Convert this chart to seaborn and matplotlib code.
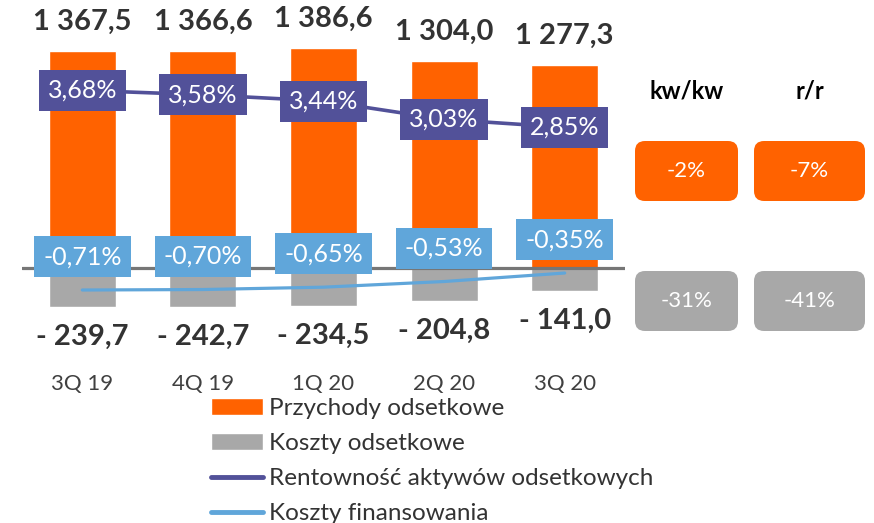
import numpy as np
import pandas as pd
import matplotlib
matplotlib.use('Agg')
import matplotlib.pyplot as plt
import seaborn as sns
from matplotlib.patches import Patch, FancyBboxPatch
from matplotlib.lines import Line2D

# dane kwartalne
kwartaly = ['3Q 19', '4Q 19', '1Q 20', '2Q 20', '3Q 20']
przychody = [1367.5, 1366.6, 1386.6, 1304.0, 1277.3]
koszty = [-239.7, -242.7, -234.5, -204.8, -141.0]
rentownosc = [3.68, 3.58, 3.44, 3.03, 2.85]
koszty_fin = [-0.71, -0.70, -0.65, -0.53, -0.35]

# zmiany po prawej stronie
naglowki = ['kw/kw', 'r/r']
zmiana_przychody = ['-2%', '-7%']
zmiana_koszty = ['-31%', '-41%']

etykiety = ['Przychody odsetkowe', 'Koszty odsetkowe',
            'Rentowność aktywów odsetkowych', 'Koszty finansowania']

ORANGE = '#FF6200'
GREY = '#A8A8A8'
PURPLE = '#525199'
BLUE = '#60A6DA'
TXT = '#333333'

sns.set_style('white')
plt.rcParams['font.family'] = ['Lato', 'DejaVu Sans']

W, H = 874, 523
fig = plt.figure(figsize=(W / 100, H / 100), dpi=100)
ax = fig.add_axes([22 / W, 1 - 360 / H, 603 / W, 320 / H])

df = pd.DataFrame({'kw': kwartaly, 'przychody': przychody, 'koszty': koszty})
sns.barplot(data=df, x='kw', y='przychody', color=ORANGE, width=0.555,
            saturation=1, errorbar=None, ax=ax)
sns.barplot(data=df, x='kw', y='koszty', color=GREY, width=0.555,
            saturation=1, errorbar=None, ax=ax)
ax.set_xlim(-0.5, 4.5)
ax.set_ylim(-575.5, 1437)
ax.axhline(0, color='#767676', lw=2.3)

def fmt_pl(v):
    return f'{v:,.1f}'.replace(',', ' ').replace('.', ',')

for i, v in enumerate(przychody):
    ax.annotate(fmt_pl(v), (i, v), xytext=(0, 21), textcoords='offset points',
                ha='center', va='center', fontsize=21, fontweight='bold', color=TXT)
for i, v in enumerate(koszty):
    ax.annotate('- ' + fmt_pl(abs(v)), (i, v), xytext=(0, -21.5), textcoords='offset points',
                ha='center', va='center', fontsize=21, fontweight='bold', color=TXT)

# rentowność aktywów
ax2 = ax.twinx()
ax2.set_ylim(-2.367, 4.808)
sns.lineplot(x=np.arange(len(kwartaly)), y=rentownosc, color=PURPLE, lw=2.6, ax=ax2)
for i, v in enumerate(rentownosc):
    ax2.annotate(f'{v:.2f}%'.replace('.', ','), (i, v), ha='center', va='center',
                 fontsize=18, color='white',
                 bbox=dict(boxstyle='square,pad=0.36', fc=PURPLE, ec='none'))

# koszty finansowania
ax3 = ax.twinx()
ax3.set_ylim(-2.193, 4.587)
sns.lineplot(x=np.arange(len(kwartaly)), y=koszty_fin, color=BLUE, lw=2.3, ax=ax3)
for i, v in enumerate(koszty_fin):
    ax3.annotate(f'{v:.2f}%'.replace('.', ','), (i, v), xytext=(0, 24),
                 textcoords='offset points', ha='center', va='center',
                 fontsize=18, color='white',
                 bbox=dict(boxstyle='square,pad=0.36', fc=BLUE, ec='none'))

for a in (ax, ax2, ax3):
    a.set_yticks([])
    a.set_ylabel('')
    a.set_xlabel('')
    for s in a.spines.values():
        s.set_visible(False)
ax.tick_params(axis='x', length=0, pad=10, labelsize=16, labelcolor='#404040')

# panel zmian po prawej
kol_x = [(635, 738), (754, 865)]
def box(x0, y0, x1, y1, color):
    p = FancyBboxPatch((x0 / 100, (H - y1) / 100), (x1 - x0) / 100, (y1 - y0) / 100,
                       boxstyle='round,pad=0,rounding_size=0.1',
                       transform=fig.dpi_scale_trans, fc=color, ec='none')
    fig.add_artist(p)

for (x0, x1), h, a, b in zip(kol_x, naglowki, zmiana_przychody, zmiana_koszty):
    cx = (x0 + x1) / 2 / W
    fig.text(cx, 1 - 91 / H, h, ha='center', va='center', fontsize=17,
             fontweight='bold', color='black')
    box(x0, 141, x1, 201, ORANGE)
    fig.text(cx, 1 - 171 / H, a, ha='center', va='center', fontsize=16, color='white')
    box(x0, 271, x1, 331, GREY)
    fig.text(cx, 1 - 301 / H, b, ha='center', va='center', fontsize=16, color='white')

uchwyty = [Patch(fc=ORANGE), Patch(fc=GREY),
           Line2D([], [], color=PURPLE, lw=3.5), Line2D([], [], color=BLUE, lw=3.5)]
fig.legend(uchwyty, etykiety, loc='upper left', bbox_to_anchor=(211 / W, 1 - 398 / H),
           frameon=False, fontsize=17.5, labelcolor=TXT, handlelength=2.15,
           handletextpad=0.25, labelspacing=0.58, borderpad=0, borderaxespad=0)

fig.savefig('out.png', dpi=100)
